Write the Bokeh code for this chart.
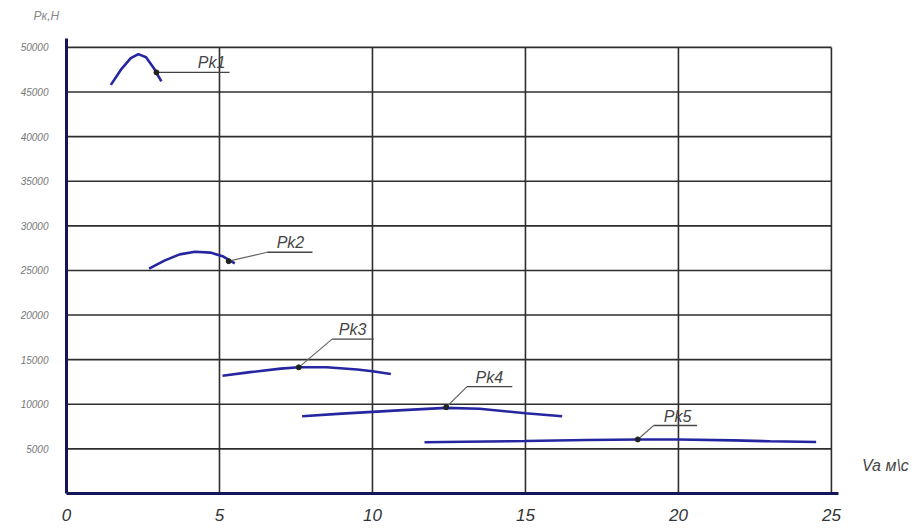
from bokeh.plotting import figure
from bokeh.models import Range1d, FixedTicker
from bokeh.core.properties import value
from bokeh.embed import file_html
from bokeh.resources import INLINE

# ---- data ----
x_ticks = [0, 5, 10, 15, 20, 25]
y_ticks = [5000, 10000, 15000, 20000, 25000, 30000, 35000, 40000, 45000, 50000]

pk1_x = [1.45, 1.8, 2.1, 2.35, 2.6, 2.85, 3.1]
pk1_y = [45800, 47600, 48800, 49250, 48900, 47700, 46200]
pk2_x = [2.7, 3.2, 3.7, 4.2, 4.7, 5.1, 5.5]
pk2_y = [25200, 26100, 26800, 27100, 27000, 26600, 25800]
pk3_x = [5.1, 6.0, 7.0, 7.6, 8.5, 9.5, 10.0, 10.6]
pk3_y = [13200, 13600, 14000, 14150, 14150, 13900, 13700, 13400]
pk4_x = [7.7, 9.0, 10.0, 11.0, 12.4, 13.5, 15.0, 16.2]
pk4_y = [8650, 8950, 9150, 9350, 9600, 9500, 9000, 8650]
pk5_x = [11.7, 13.0, 15.0, 17.0, 18.7, 20.0, 21.8, 23.0, 24.5]
pk5_y = [5750, 5800, 5880, 6000, 6060, 6050, 5950, 5850, 5770]

pk_names = ["Pk1", "Pk2", "Pk3", "Pk4", "Pk5"]
anchor_x = [2.94, 5.3, 7.59, 12.41, 18.67]
anchor_y = [47200, 26040, 14140, 9670, 6060]
elbow_x = [2.94, 6.56, 8.68, 13.09, 19.19]
elbow_y = [47200, 27040, 17300, 11980, 7620]
shelf_end_x = [5.33, 8.04, 10.04, 14.57, 20.61]
name_x = [4.74, 7.32, 9.35, 13.82, 19.97]

x_title = "Va м\\с"
y_title = "Рк,Н"

FONT = "Liberation Sans"
CURVE = "#2626a0"
GRID = "#2e2e2e"
AXIS = "#15155a"

p = figure(width=912, height=523, output_backend="svg", toolbar_location=None,
           x_range=Range1d(0, 27.65), y_range=Range1d(0, 52567),
           min_border_left=66, min_border_right=0, min_border_top=24, min_border_bottom=28,
           title=y_title)
p.title.align = "left"
p.title.offset = -33
p.title.standoff = 4
p.title.text_font = FONT
p.title.text_font_style = "italic"
p.title.text_font_size = "12px"
p.title.text_color = "#888888"
p.outline_line_color = None
p.xgrid.visible = False
p.ygrid.visible = False
p.background_fill_color = "white"

# axes
for ax, ticks in ((p.xaxis[0], x_ticks), (p.yaxis[0], y_ticks)):
    ax.ticker = FixedTicker(ticks=ticks)
    ax.axis_line_color = AXIS
    ax.axis_line_width = 3
    ax.major_tick_line_color = None
    ax.minor_tick_line_color = None
    ax.major_label_text_font = FONT
    ax.major_label_text_font_style = "italic"
p.xaxis.bounds = (0, 25.23)
p.yaxis.bounds = (0, 51000)

p.xaxis.major_label_text_font_size = "17px"
p.xaxis.major_label_text_color = "#333333"
p.xaxis.major_label_standoff = 9
p.yaxis.major_label_text_font_size = "10px"
p.yaxis.major_label_text_color = "#777777"
p.yaxis.major_label_standoff = 12

# grid drawn from the tick lists
gx = [t for t in x_ticks if t > 0]
p.segment(x0=gx, y0=[0] * len(gx), x1=gx, y1=[max(y_ticks)] * len(gx),
          line_color=GRID, line_width=1.6)
p.segment(x0=[0] * len(y_ticks), y0=y_ticks, x1=[max(x_ticks)] * len(y_ticks), y1=y_ticks,
          line_color=GRID, line_width=1.6)

# curves
for xs, ys in ((pk1_x, pk1_y), (pk2_x, pk2_y), (pk3_x, pk3_y), (pk4_x, pk4_y), (pk5_x, pk5_y)):
    p.line(xs, ys, line_color=CURVE, line_width=2.6)

# leaders
p.segment(x0=anchor_x, y0=anchor_y, x1=elbow_x, y1=elbow_y, line_color="#666666", line_width=1.2)
p.segment(x0=elbow_x, y0=elbow_y, x1=shelf_end_x, y1=elbow_y, line_color="#444444", line_width=1.4)
p.scatter(anchor_x, anchor_y, size=5, color="#222222")
p.text(x=name_x, y=elbow_y, text=pk_names, text_font=value(FONT), text_font_style="italic",
       text_font_size="16px", text_color="#444444", text_align="center",
       text_baseline="bottom", y_offset=-1)

p.text(x=[26.0], y=[3100], text=[x_title], text_font=value(FONT), text_font_style="italic",
       text_font_size="16px", text_color="#444444", text_baseline="middle")

open("out.html", "w").write(file_html(p, INLINE))
